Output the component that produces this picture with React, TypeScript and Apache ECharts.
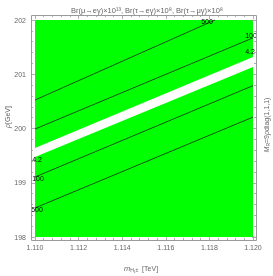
import React, { useEffect, useRef } from "react";
import * as echarts from "echarts";

// ---- data ----
const xMin = 1.11;
const xMax = 1.12;
const yMin = 198;
const yMax = 202;
const xTickStep = 0.002;
const yTickStep = 1;

// contour lines, each as [x (TeV), rho (GeV)] end points
const upper500 = [[1.11, 200.525], [1.11826, 202.0]];
const upper100 = [[1.11, 199.99], [1.12, 201.67]];
const bandUpper42 = [[1.11, 199.64], [1.12, 201.32]];
const bandLower42 = [[1.11, 199.475], [1.12, 201.134]];
const lower100 = [[1.11, 199.106], [1.12, 200.79]];
const lower500 = [[1.11, 198.535], [1.12, 200.21]];

const titleText = "Br(μ→eγ)×10¹³, Br(τ→eγ)×10⁸, Br(τ→μγ)×10⁸";

const FONT = "'Liberation Sans', 'DejaVu Sans', sans-serif";
const GREEN = "#00ff00";
const FRAME = "#9a9a9a";
const LABEL = "#666666";

function contour(
  data: number[][],
  labelIdx: number,
  labelText: string,
  offset: number[]
) {
  return {
    type: "line",
    data: data.map((d, i) =>
      i === labelIdx
        ? { value: d, label: { show: true, formatter: labelText, offset } }
        : { value: d }
    ),
    symbol: "circle",
    symbolSize: 1,
    showSymbol: true,
    clip: false,
    silent: true,
    itemStyle: { color: "rgba(0,0,0,0)" },
    lineStyle: { color: "#1a2a1a", width: 0.8 },
    label: {
      show: false,
      position: "inside",
      color: "#000",
      fontSize: 7,
      fontFamily: FONT,
    },
  };
}

export default function App() {
  const ref = useRef<HTMLDivElement>(null);
  useEffect(() => {
    if (!ref.current) return;
    const chart = echarts.init(ref.current, undefined, { renderer: "svg" });
    const tickCommon = {
      axisLine: { show: false },
      splitLine: { show: false },
      axisTick: { show: true, inside: true, length: 4, lineStyle: { color: FRAME, width: 0.8 } },
      minorTick: { show: true, splitNumber: 5, length: 2, lineStyle: { color: FRAME, width: 0.8 } },
    };
    chart.setOption({
      animation: false,
      title: {
        text: titleText,
        left: 66,
        top: 1,
        textStyle: { fontSize: 7.5, color: LABEL, fontWeight: "normal", fontFamily: FONT },
      },
      grid: {
        left: 35,
        right: 20,
        top: 20,
        bottom: 39,
        show: true,
        backgroundColor: GREEN,
        borderWidth: 0,
      },
      xAxis: [
        {
          type: "value",
          min: xMin,
          max: xMax,
          interval: xTickStep,
          position: "bottom",
          offset: 3,
          ...tickCommon,
          axisLabel: {
            color: LABEL,
            fontSize: 7,
            fontFamily: FONT,
            margin: 4,
            formatter: (v: number) => v.toFixed(3),
          },
        },
        {
          type: "value",
          min: xMin,
          max: xMax,
          interval: xTickStep,
          position: "top",
          offset: 5,
          ...tickCommon,
          axisLabel: { show: false },
        },
      ],
      yAxis: [
        {
          type: "value",
          min: yMin,
          max: yMax,
          interval: yTickStep,
          position: "left",
          offset: 4,
          ...tickCommon,
          axisLabel: { color: LABEL, fontSize: 7, fontFamily: FONT, margin: 5 },
        },
        {
          type: "value",
          min: yMin,
          max: yMax,
          interval: yTickStep,
          position: "right",
          offset: 3,
          ...tickCommon,
          axisLabel: { show: false },
        },
      ],
      series: [
        {
          ...contour(bandUpper42, 1, "4.2", [-3, -5]),
          lineStyle: { width: 0 },
          areaStyle: { color: "#ffffff", opacity: 1, origin: "start" },
        },
        {
          ...contour(bandLower42, 0, "4.2", [2, 3]),
          lineStyle: { width: 0 },
          areaStyle: { color: GREEN, opacity: 1, origin: "start" },
        },
        contour(upper500, 1, "500", [-8, 1]),
        contour(upper100, 1, "100", [-2, -2]),
        contour(lower100, 0, "100", [3, 2]),
        contour(lower500, 0, "500", [2, 2]),
      ],
      graphic: [
        {
          type: "rect",
          silent: true,
          shape: { x: 31.5, y: 15.5, width: 225, height: 225 },
          style: { fill: "none", stroke: FRAME, lineWidth: 1 },
          z: 10,
        },
        {
          type: "text",
          x: 7,
          y: 117,
          rotation: Math.PI / 2,
          style: {
            text: "{i|ρ}[GeV]",
            fontSize: 7,
            fontFamily: FONT,
            fill: LABEL,
            align: "center",
            verticalAlign: "middle",
            rich: { i: { fontStyle: "italic", fontSize: 7, fontFamily: FONT, fill: LABEL } },
          },
        },
        {
          type: "text",
          x: 266,
          y: 125,
          rotation: Math.PI / 2,
          style: {
            text: "{i|M}{sub|R}=9{i|ρ}diag(1,1,1)",
            fontSize: 7,
            fontFamily: FONT,
            fill: LABEL,
            align: "center",
            verticalAlign: "middle",
            rich: {
              i: { fontStyle: "italic", fontSize: 7, fontFamily: FONT, fill: LABEL },
              sub: { fontSize: 5, fontFamily: FONT, fill: LABEL, padding: [3, 0, 0, 0] },
            },
          },
        },
        {
          type: "text",
          x: 141,
          y: 268,
          style: {
            text: "{i|m}{sub|H₁±}  [TeV]",
            fontSize: 7,
            fontFamily: FONT,
            fill: LABEL,
            align: "center",
            verticalAlign: "middle",
            rich: {
              i: { fontStyle: "italic", fontSize: 7.5, fontFamily: FONT, fill: LABEL },
              sub: { fontSize: 5, fontFamily: FONT, fill: LABEL, padding: [4, 0, 0, 0] },
            },
          },
        },
      ],
    });
    return () => chart.dispose();
  }, []);
  return (
    <div
      ref={ref}
      style={{ position: "fixed", left: 0, top: 0, width: 273, height: 276 }}
    />
  );
}
